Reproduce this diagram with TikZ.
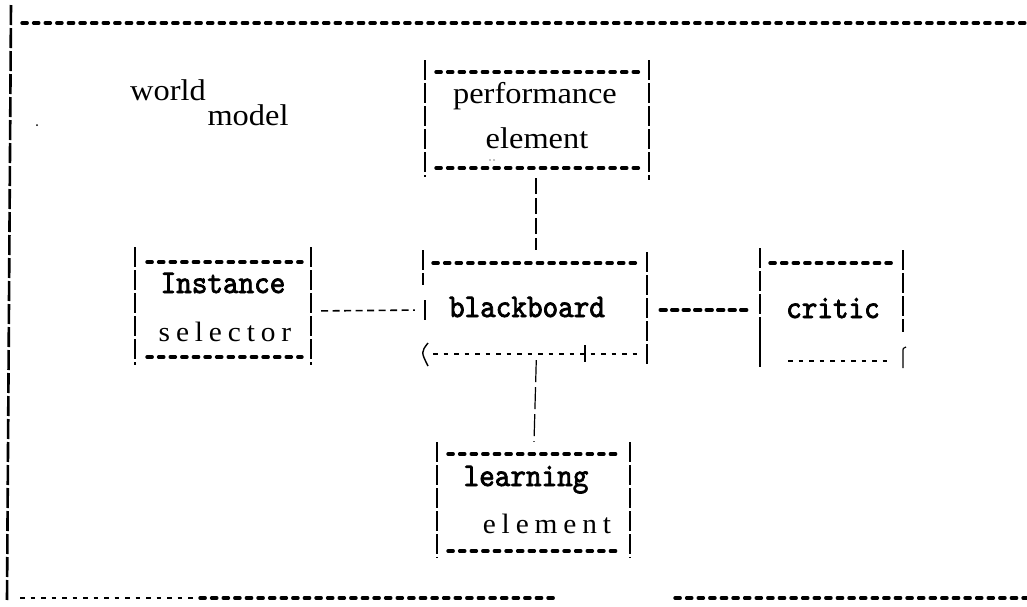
\documentclass[tikz,border=0pt]{standalone}
\usepackage{fontspec}
\setmainfont{Liberation Serif}
\newfontfamily\bookfont[FakeStretch=1.08]{Liberation Serif}
\newfontfamily\spacedfont[FakeStretch=1.05,LetterSpace=21]{Liberation Serif}
\newfontfamily\typefont[FakeBold=2.2,FakeStretch=0.9]{lmmono10-regular.otf}
\usetikzlibrary{calc}

\tikzset{
  rule/.style={line width=3.4pt, line cap=round, dash pattern=on 5.2pt off 6.4pt},
  side/.style={line width=2.6pt, dash pattern=on 20pt off 3pt},
  hair/.style={line width=1.1pt, dash pattern=on 4.5pt off 6pt},
  vlink/.style={line width=2.2pt, dash pattern=on 16pt off 4pt},
  link/.style={line width=1.6pt, dash pattern=on 7pt off 4.5pt},
  boldlink/.style={line width=3.4pt, line cap=round, dash pattern=on 6pt off 5.5pt},
  thinlink/.style={line width=1.2pt, dash pattern=on 22pt off 5pt},
  box/.style={rectangle, draw=none, inner sep=0pt},
  book/.style={inner sep=0pt, anchor=base, font=\bookfont\fontsize{30}{32}\selectfont},
  spaced/.style={inner sep=0pt, anchor=base, font=\spacedfont\fontsize{28}{30}\selectfont},
  type/.style={inner sep=0pt, anchor=base, font=\typefont\fontsize{33}{35}\selectfont},
}

\begin{document}
\begin{tikzpicture}[x=1pt, y=-1pt]
  \useasboundingbox (0,0) rectangle (1027,606);

  % outer frame
  \draw[side] (11,5) -- (7,600);
  \draw[rule] (22,23) -- (1027,23);
  \draw[hair] (20,598) -- (197,598);
  \draw[rule] (200,598) -- (556,598);
  \draw[rule] (675,598) -- (1027,598);

  % label of the frame
  \node[book] (world) at (168,100) {world};
  \node[book] (model) at (248,125) {model};
  \fill (37,125) circle (1pt);

  % invisible box nodes used by the connectors
  \node[box, minimum width=224pt, minimum height=118pt] (perf) at (536,119) {};
  \node[box, minimum width=224pt, minimum height=120pt] (bb) at (536,310) {};
  \node[box, minimum width=176pt, minimum height=118pt] (inst) at (223,311) {};
  \node[box, minimum width=143pt, minimum height=119pt] (critic) at (831.5,310) {};
  \node[box, minimum width=193pt, minimum height=116pt] (learn) at (534,500) {};

  % performance element
  \draw[side] (425,60) -- (425,177);
  \draw[side] (649,60) -- (649,180);
  \draw[rule] (436,72) -- (641,72);
  \draw[rule] (436,168) -- (641,168);
  \node[book] (perft) at (535,103) {performance};
  \node[book] (perfb) at (537,148) {element};
  \fill (490,160) circle (0.6pt) (494,160) circle (0.6pt);

  % blackboard
  \draw[side] (423,250) -- (423,285);
  \draw[line width=2.4pt] (425,300) -- (425,320);
  \draw[line width=1.4pt] (428,343) .. controls (421,352) .. (428,366);
  \draw[rule] (433,263) -- (638,263);
  \draw[hair] (433,354) -- (638,354);
  \draw[line width=1.8pt] (585,345) -- (585,362);
  \draw[side] (647,252) -- (647,367);
  \node[type] (bbt) at (527,317) {blackboard};

  % instance selector
  \draw[side] (135,247) -- (135,365);
  \draw[side] (311,247) -- (311,365);
  \draw[rule] (147,262) -- (302,262);
  \draw[rule] (147,357) -- (302,357);
  \node[type] (instt) at (223,293) {Instance};
  \node[spaced] (instb) at (225,341) {selector};

  % critic
  \draw[side] (760,248) -- (760,337);
  \draw[line width=1.4pt] (760,337) -- (760,367);
  \draw[side] (903,250) -- (903,332);
  \draw[line width=1.2pt] (903,368) -- (903,352) .. controls (903,348) .. (906,347);
  \draw[rule] (770,263) -- (895,263);
  \draw[hair] (788,361) -- (893,361);
  \node[type] (critict) at (833,318) {critic};

  % learning element
  \draw[side, line width=1.8pt] (437,442) -- (437,558);
  \draw[side, line width=1.8pt] (630,442) -- (630,558);
  \draw[rule] (448,454) -- (620,454);
  \draw[rule] (448,551) -- (620,551);
  \node[type] (learnt) at (526,486) {learning};
  \node[spaced] (learnb) at (547,533) {element};

  % connectors
  \draw[vlink] (perf.south) -- (bb.north);
  \draw[link, shorten <=10pt, shorten >=9pt] (inst.east) -- (bb.west);
  \draw[boldlink, shorten <=12pt, shorten >=12pt] (bb.east) -- (critic.west);
  \draw[thinlink, shorten <=-10pt] (bb.south) -- (learn.north);
\end{tikzpicture}
\end{document}
